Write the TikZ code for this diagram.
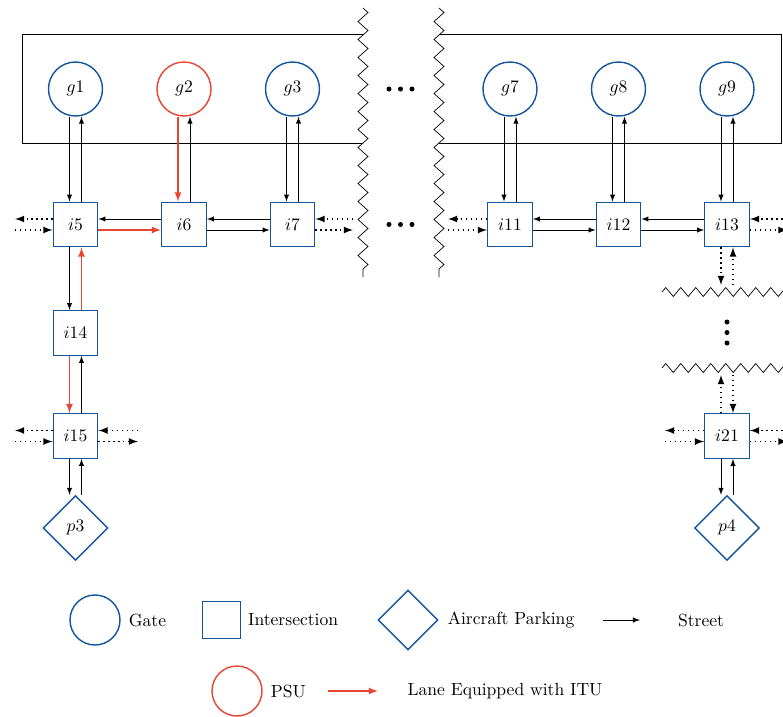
\documentclass[tikz,border=0pt]{standalone}
\usepackage{amsmath}
\usepackage{amssymb}
\usepackage{tikz}
\usetikzlibrary{shapes.geometric,decorations.pathmorphing,positioning}

\definecolor{gblue}{RGB}{20,84,156}
\definecolor{pred}{RGB}{232,68,52}

\begin{document}
\begin{tikzpicture}[>=latex,
    gate/.style={circle, draw=gblue, thick, minimum size=1.08cm, inner sep=0pt},
    psu/.style={gate, draw=pred},
    inter/.style={rectangle, draw=gblue, thick, minimum size=0.89cm, inner sep=0pt},
    park/.style={diamond, draw=gblue, thick, minimum size=1.3cm, inner sep=0pt},
    itu/.style={->, draw=pred, thick},
    dotarrow/.style={->, dotted, thick},
    jag/.style={decorate, decoration={zigzag, segment length=0.36cm, amplitude=0.1cm}}]
            \useasboundingbox (0,0) rectangle (15.66,-14.34);

            % terminal frames
            \draw (7.26,-0.68) -- (0.44,-0.68) -- (0.44,-2.86) -- (7.26,-2.86);
            \draw (8.78,-0.68) -- (15.62,-0.68) -- (15.62,-2.86) -- (8.78,-2.86);
            \draw[jag] (7.26,-0.16) -- (7.26,-5.54);
            \draw[jag] (8.78,-0.16) -- (8.78,-5.54);
            \draw[jag, decoration={segment length=0.3cm, amplitude=0.09cm}] (13.24,-5.84) -- (15.8,-5.84);
            \draw[jag, decoration={segment length=0.3cm, amplitude=0.09cm}] (13.24,-7.36) -- (15.8,-7.36);

            \foreach \x in {7.78,8.01,8.24} {
                \fill (\x,-1.78) circle (0.05cm);
                \fill (\x,-4.49) circle (0.05cm);
            }
            \foreach \y in {-6.44,-6.65,-6.86}
                \fill (14.54,\y) circle (0.05cm);

            % gates
            \node[gate] (g1) at (1.51, -1.78) {$g1$};
            \node[psu] (g2) at (3.68, -1.78) {$g2$};
            \node[gate] (g3) at (5.85, -1.78) {$g3$};
            \node[gate] (g7) at (10.2, -1.78) {$g7$};
            \node[gate] (g8) at (12.37, -1.78) {$g8$};
            \node[gate] (g9) at (14.54, -1.78) {$g9$};

            % intersections
            \node[inter] (i5) at (1.51, -4.49) {$i5$};
            \node[inter] (i6) at (3.68, -4.49) {$i6$};
            \node[inter] (i7) at (5.85, -4.49) {$i7$};
            \node[inter] (i11) at (10.2, -4.49) {$i11$};
            \node[inter] (i12) at (12.37, -4.49) {$i12$};
            \node[inter] (i13) at (14.54, -4.49) {$i13$};
            \node[inter] (i14) at (1.51, -6.66) {$i14$};
            \node[inter] (i15) at (1.51, -8.72) {$i15$};
            \node[inter] (i21) at (14.54, -8.72) {$i21$};

            % parkings
            \node[park] (p3) at (1.51, -10.56) {$p3$};
            \node[park] (p4) at (14.54, -10.56) {$p4$};

            % loose ends of streets
            \coordinate (e5) at (0.3, -4.49);
            \coordinate (e7) at (7.06, -4.49);
            \coordinate (e11) at (8.96, -4.49);
            \coordinate (e13) at (15.75, -4.49);
            \coordinate (e13s) at (14.54, -5.7);
            \coordinate (e15w) at (0.3, -8.72);
            \coordinate (e15e) at (2.76, -8.72);
            \coordinate (e21w) at (13.3, -8.72);
            \coordinate (e21e) at (15.75, -8.72);
            \coordinate (e21n) at (14.54, -7.5);

            % gate lanes
            \draw[->] ([xshift=-0.12cm]g1.south) to ([xshift=-0.12cm]i5.north);
            \draw[->] ([xshift=0.12cm]i5.north) to ([xshift=0.12cm]g1.south);
            \draw[itu] ([xshift=-0.12cm]g2.south) to ([xshift=-0.12cm]i6.north);
            \draw[->] ([xshift=0.12cm]i6.north) to ([xshift=0.12cm]g2.south);
            \draw[->] ([xshift=-0.12cm]g3.south) to ([xshift=-0.12cm]i7.north);
            \draw[->] ([xshift=0.12cm]i7.north) to ([xshift=0.12cm]g3.south);
            \draw[->] ([xshift=-0.12cm]g7.south) to ([xshift=-0.12cm]i11.north);
            \draw[->] ([xshift=0.12cm]i11.north) to ([xshift=0.12cm]g7.south);
            \draw[->] ([xshift=-0.12cm]g8.south) to ([xshift=-0.12cm]i12.north);
            \draw[->] ([xshift=0.12cm]i12.north) to ([xshift=0.12cm]g8.south);
            \draw[->] ([xshift=-0.12cm]g9.south) to ([xshift=-0.12cm]i13.north);
            \draw[->] ([xshift=0.12cm]i13.north) to ([xshift=0.12cm]g9.south);

            % main street
            \draw[->] ([yshift=0.11cm]i6.west) to ([yshift=0.11cm]i5.east);
            \draw[itu] ([yshift=-0.11cm]i5.east) to ([yshift=-0.11cm]i6.west);
            \draw[->] ([yshift=0.11cm]i7.west) to ([yshift=0.11cm]i6.east);
            \draw[->] ([yshift=-0.11cm]i6.east) to ([yshift=-0.11cm]i7.west);
            \draw[->] ([yshift=0.11cm]i12.west) to ([yshift=0.11cm]i11.east);
            \draw[->] ([yshift=-0.11cm]i11.east) to ([yshift=-0.11cm]i12.west);
            \draw[->] ([yshift=0.11cm]i13.west) to ([yshift=0.11cm]i12.east);
            \draw[->] ([yshift=-0.11cm]i12.east) to ([yshift=-0.11cm]i13.west);

            % side streets
            \draw[->] ([xshift=-0.12cm]i5.south) to ([xshift=-0.12cm]i14.north);
            \draw[itu] ([xshift=0.12cm]i14.north) to ([xshift=0.12cm]i5.south);
            \draw[itu] ([xshift=-0.12cm]i14.south) to ([xshift=-0.12cm]i15.north);
            \draw[->] ([xshift=0.12cm]i15.north) to ([xshift=0.12cm]i14.south);
            \draw[->] ([xshift=-0.12cm]i15.south) to ([xshift=-0.12cm]p3.north);
            \draw[->] ([xshift=0.12cm]p3.north) to ([xshift=0.12cm]i15.south);
            \draw[->] ([xshift=-0.12cm]i21.south) to ([xshift=-0.12cm]p4.north);
            \draw[->] ([xshift=0.12cm]p4.north) to ([xshift=0.12cm]i21.south);

            % streets going on
            \draw[dotarrow] ([yshift=0.11cm]i5.west) to ([yshift=0.11cm]e5);
            \draw[dotarrow] ([yshift=-0.11cm]e5) to ([yshift=-0.11cm]i5.west);
            \draw[dotarrow] ([yshift=0.11cm]e7) to ([yshift=0.11cm]i7.east);
            \draw[dotarrow] ([yshift=-0.11cm]i7.east) to ([yshift=-0.11cm]e7);
            \draw[dotarrow] ([yshift=0.11cm]i11.west) to ([yshift=0.11cm]e11);
            \draw[dotarrow] ([yshift=-0.11cm]e11) to ([yshift=-0.11cm]i11.west);
            \draw[dotarrow] ([yshift=0.11cm]e13) to ([yshift=0.11cm]i13.east);
            \draw[dotarrow] ([yshift=-0.11cm]i13.east) to ([yshift=-0.11cm]e13);
            \draw[dotarrow] ([xshift=-0.12cm]i13.south) to ([xshift=-0.12cm]e13s);
            \draw[dotarrow] ([xshift=0.12cm]e13s) to ([xshift=0.12cm]i13.south);
            \draw[dotarrow] ([yshift=0.11cm]i15.west) to ([yshift=0.11cm]e15w);
            \draw[dotarrow] ([yshift=-0.11cm]e15w) to ([yshift=-0.11cm]i15.west);
            \draw[dotarrow] ([yshift=0.11cm]e15e) to ([yshift=0.11cm]i15.east);
            \draw[dotarrow] ([yshift=-0.11cm]i15.east) to ([yshift=-0.11cm]e15e);
            \draw[dotarrow] ([yshift=0.11cm]i21.west) to ([yshift=0.11cm]e21w);
            \draw[dotarrow] ([yshift=-0.11cm]e21w) to ([yshift=-0.11cm]i21.west);
            \draw[dotarrow] ([yshift=0.11cm]e21e) to ([yshift=0.11cm]i21.east);
            \draw[dotarrow] ([yshift=-0.11cm]i21.east) to ([yshift=-0.11cm]e21e);
            \draw[dotarrow] ([xshift=-0.12cm]i21.north) to ([xshift=-0.12cm]e21n);
            \draw[dotarrow] ([xshift=0.12cm]e21n) to ([xshift=0.12cm]i21.north);

            % legend
            \node[gate, minimum size=1cm] (lgate) at (1.9, -12.4) {};
            \node[right=0.04cm of lgate] (lgatetxt) {Gate};
            \node[inter, minimum size=0.75cm] (linter) at (4.43, -12.4) {};
            \node[right=0.02cm of linter] (lintertxt) {Intersection};
            \node[park, minimum size=1.2cm] (lpark) at (8.16, -12.4) {};
            \node[right=0.06cm of lpark] (lparktxt) {Aircraft Parking};
            \coordinate (lsa) at (12.06, -12.4);
            \coordinate (lsb) at (12.8, -12.4);
            \draw[->] (lsa) to (lsb);
            \node (lstreet) at (14.02, -12.4) {Street};

            \node[psu, minimum size=1cm] (lpsu) at (4.74, -13.82) {};
            \node[right=0.04cm of lpsu] (lpsutxt) {PSU};
            \coordinate (lra) at (6.56, -13.82);
            \coordinate (lrb) at (7.56, -13.82);
            \draw[itu] (lra) to (lrb);
            \node (litu) at (10.1, -13.82) {Lane Equipped with ITU};
        \end{tikzpicture}
\end{document}
